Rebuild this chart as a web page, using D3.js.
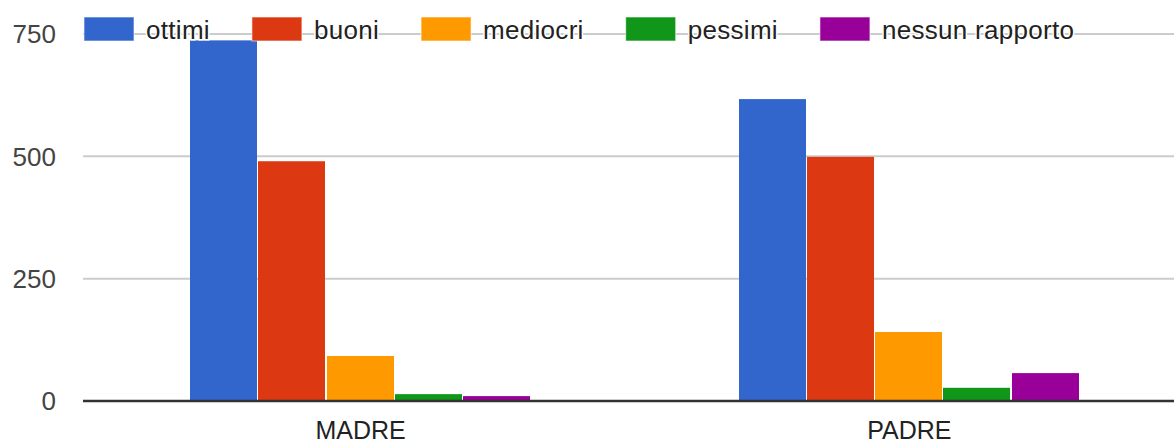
<!DOCTYPE html>
<html>
<head>
<meta charset="utf-8">
<script src="https://d3js.org/d3.v7.min.js"></script>
<style>
body { margin: 0; background: #fff; }
text { font-family: "Liberation Sans", Arial, sans-serif; }
</style>
</head>
<body>
<script>
var w = 1174;
var h = 441;

// data
var categories = ["MADRE", "PADRE"];
var seriesNames = ["ottimi", "buoni", "mediocri", "pessimi", "nessun rapporto"];
var ottimi = [737, 617];
var buoni = [490, 499];
var mediocri = [92, 141];
var pessimi = [14, 27];
var nessun = [10, 57];
var yTicks = [0, 250, 500, 750];
var colors = ["#3366cc", "#dc3912", "#ff9900", "#109618", "#990099"];

var seriesValues = [ottimi, buoni, mediocri, pessimi, nessun];

var svg = d3.select("body")
	.append("svg")
	.attr("width", w)
	.attr("height", h);

var left = 83;
var baseY = 401;

var x0 = d3.scaleBand()
	.domain(categories)
	.range([86, 1184])
	.paddingInner(0.379)
	.paddingOuter(0.19);

var x1 = d3.scaleBand()
	.domain(seriesNames)
	.range([0, x0.bandwidth()]);

var y = d3.scaleLinear()
	.domain([0, 750])
	.range([baseY, 34]);

// gridlines
svg.selectAll("line.grid")
	.data(yTicks.filter(function(d){ return d != 0; }))
	.enter()
	.append("line")
	.attr("class", "grid")
	.attr("x1", left)
	.attr("x2", w)
	.attr("y1", function(d){ return y(d); })
	.attr("y2", function(d){ return y(d); })
	.attr("stroke", "#cccccc")
	.attr("stroke-width", 2);

// bars
var rows = [];
categories.forEach(function(c, ci){
	seriesNames.forEach(function(s, si){
		rows.push({cat: c, series: s, value: seriesValues[si][ci], color: colors[si]});
	});
});

svg.selectAll("rect.bar")
	.data(rows)
	.enter()
	.append("rect")
	.attr("class", "bar")
	.attr("x", function(d){ return Math.round(x0(d.cat) + x1(d.series)); })
	.attr("y", function(d){ return y(d.value); })
	.attr("width", function(d){ return Math.round(x1.bandwidth()) - 1; })
	.attr("height", function(d){ return baseY - 1 - y(d.value); })
	.attr("fill", function(d){ return d.color; });

// baseline
svg.append("line")
	.attr("x1", left)
	.attr("x2", w)
	.attr("y1", y(0))
	.attr("y2", y(0))
	.attr("stroke", "#333333")
	.attr("stroke-width", 2.6);

// y labels
svg.selectAll("text.ylab")
	.data(yTicks)
	.enter()
	.append("text")
	.attr("class", "ylab")
	.attr("x", 56)
	.attr("y", function(d){ return y(d); })
	.attr("dy", "0.36em")
	.attr("text-anchor", "end")
	.attr("font-size", 26)
	.attr("fill", "#444444")
	.text(function(d){ return d; });

// x labels
svg.selectAll("text.xlab")
	.data(categories)
	.enter()
	.append("text")
	.attr("class", "xlab")
	.attr("x", function(d){ return x0(d) + x0.bandwidth() / 2; })
	.attr("y", 439)
	.attr("text-anchor", "middle")
	.attr("font-size", 25)
	.attr("fill", "#222222")
	.text(function(d){ return d; });

// legend
var legend = svg.append("g");
var lx = 84;
seriesNames.forEach(function(s, i){
	legend.append("rect")
		.attr("x", lx)
		.attr("y", 17)
		.attr("width", 50)
		.attr("height", 24)
		.attr("fill", colors[i])
		.attr("stroke", "#ffffff")
		.attr("stroke-opacity", 0.6)
		.attr("stroke-width", 1);
	var t = legend.append("text")
		.attr("x", lx + 62)
		.attr("y", 38.5)
		.attr("font-size", 26)
		.attr("letter-spacing", 0.3)
		.attr("fill", "#222222")
		.attr("stroke", "#ffffff")
		.attr("stroke-width", 3)
		.attr("paint-order", "stroke")
		.text(s);
	lx = lx + 62 + t.node().getComputedTextLength() + 42;
});
</script>
</body>
</html>
